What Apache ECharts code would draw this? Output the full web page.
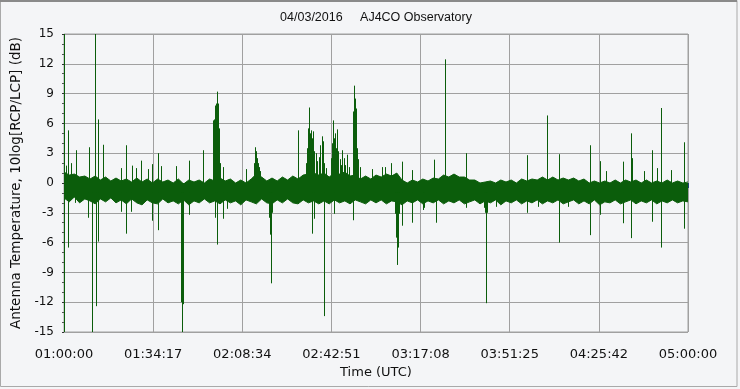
<!DOCTYPE html>
<html><head><meta charset="utf-8">
<script src="https://cdn.jsdelivr.net/npm/echarts@6/dist/echarts.min.js"></script>
<style>html,body{margin:0;padding:0;background:#f4f5f7;}#c{width:740px;height:389px;}</style>
</head><body><div id="c"></div>
<script>
// ---- data (minutes after 01:00:00 UTC, dB) ----
const titleText = '04/03/2016     AJ4CO Observatory';
const xTitle = 'Time (UTC)';
const yTitle = 'Antenna Temperature, 10log[RCP/LCP] (dB)';
const startHour = 1;          // 01:00:00
const spanMinutes = 240;      // to 05:00:00
const xSplits = 7;
const yMin = -15, yMax = 15, yStep = 3;
const bandStepMin = 2;
// upper edge of the dense noise band, one value every 2 minutes
const bandHi = [
 1.1,0.8,0.9,0.6,0.7,0.4,0.7,0.3,0.6,0.2,
 0.5,0.2,0.4,0.1,0.5,0.1,0.4,0.0,0.4,0.1,
 0.3,0.0,0.4,-0.1,0.3,0.1,0.3,0.0,0.4,0.2,
 0.5,0.2,0.4,0.0,0.3,0.0,0.4,0.9,0.6,0.2,
 0.5,0.2,0.6,0.3,0.7,0.4,0.8,0.9,1.0,0.8,
 1.0,0.6,1.0,0.9,1.1,0.7,0.8,0.4,0.7,0.4,
 0.8,0.6,0.9,0.7,1.0,0.3,0.0,0.3,0.1,0.4,
 0.2,0.5,0.4,0.8,0.6,0.9,0.6,0.6,0.3,0.3,
 0.0,0.1,0.2,0.0,0.3,0.1,0.3,0.0,0.4,0.2,
 0.4,0.3,0.6,0.3,0.6,0.3,0.5,0.3,0.5,0.2,
 0.4,0.0,0.2,0.0,0.2,0.0,0.3,0.0,0.3,0.1,
 0.3,0.0,0.3,0.0,0.2,0.0,0.3,0.0,0.2,0.0,
 0.1];
// lower edge of the dense noise band, one value every 2 minutes
const bandLo = [
 -1.5,-1.9,-1.4,-2.0,-1.6,-1.8,-2.1,-1.6,-1.9,-1.5,
 -2.0,-1.7,-2.1,-1.6,-2.0,-2.2,-1.7,-2.0,-2.1,-1.6,
 -2.0,-1.8,-2.1,-1.7,-2.2,-1.8,-2.0,-1.6,-2.0,-1.8,
 -2.1,-1.7,-2.0,-1.8,-2.2,-1.7,-1.9,-2.1,-1.6,-2.0,
 -2.1,-1.7,-2.0,-1.6,-2.0,-2.1,-1.7,-2.0,-1.8,-2.1,
 -1.8,-2.1,-1.7,-2.0,-1.8,-2.1,-1.7,-1.9,-2.1,-1.7,
 -2.0,-1.7,-2.1,-1.8,-1.9,-2.2,-1.8,-2.0,-1.7,-2.1,
 -1.8,-2.0,-1.7,-2.1,-1.8,-2.0,-1.7,-2.1,-1.9,-1.7,
 -2.1,-1.8,-2.0,-1.7,-2.2,-1.8,-2.0,-1.7,-2.1,-1.8,
 -2.0,-1.7,-2.1,-1.8,-2.0,-1.7,-2.1,-1.9,-1.7,-2.1,
 -1.8,-2.1,-1.7,-2.2,-1.9,-2.0,-1.7,-2.1,-1.9,-1.7,
 -2.1,-1.8,-2.0,-1.7,-2.1,-1.8,-2.0,-1.7,-2.0,-1.8,
 -1.9];
// upward spikes [minute, dB]
const upSpikes = [
 [0.1,15],[0.85,1.75],[1.85,5.3],[2.77,2.0],[4.69,3.3],[9.81,3.6],[12.23,15],[13.38,6.4],[15.31,3.85],
 [22.23,1.5],[24.23,3.8],[26.23,1.75],[28.0,1.5],[29.92,2.25],[32.38,1.4],[34.15,1.9],[36.42,3.0],
 [37.38,1.7],[43.08,1.7],[48.46,2.25],[53.77,3.3],
 [57.38,6.0],[57.62,6.3],[57.88,6.4],[58.15,7.8],[58.38,6.5],[58.65,8.0],[58.92,9.1],[59.15,9.2],
 [59.42,8.0],[59.69,5.5],[59.92,3.6],[60.19,2.0],[61.46,1.6],[70.31,1.4],
 [73.15,2.0],[73.54,3.6],[73.92,3.2],[74.31,2.5],[74.69,2.0],[75.08,1.6],[75.58,1.2],[90.31,5.3],
 [93.27,2.0],[93.77,3.5],[94.15,5.5],[94.54,7.6],[94.92,5.0],[95.31,5.3],[95.69,4.5],[96.08,5.2],
 [96.46,3.2],[97.0,3.0],[97.5,2.2],[98.15,2.6],[98.65,3.8],[99.31,4.7],[99.69,4.2],[100.19,2.0],[100.85,1.5],
 [102.77,2.5],[103.27,4.0],[103.77,6.3],[104.15,4.5],[104.54,5.0],[104.92,3.5],[105.31,5.4],[105.69,3.2],
 [106.23,2.4],[106.73,1.8],[107.23,3.3],[107.77,2.5],[108.27,1.8],[109.15,2.85],[109.81,1.6],
 [111.23,4.0],[111.46,7.2],[111.73,9.8],[112.0,8.5],[112.38,7.5],[112.77,3.5],[113.27,2.4],[113.92,1.6],
 [118.54,1.4],[122.62,1.6],[123.65,1.6],[126.08,2.0],[130.31,2.15],[134.15,1.3],[142.62,2.35],[146.92,12.45],
 [154.69,3.0],[178.38,2.8],[186.15,6.8],[190.69,2.9],[202.62,3.8],[206.42,2.2],[208.77,1.2],[215.0,2.15],
 [218.46,5.0],[218.77,2.5],[223.38,1.2],[226.46,3.3],[228.38,1.5],[229.92,7.55],[233.77,1.3],[238.77,4.1]];
// downward spikes [minute, dB]
const downSpikes = [
 [0.1,-15],[1.85,-6.5],[4.42,-2.0],[9.54,-3.5],[11.08,-15],[12.38,-12.4],[13.38,-5.9],[22.23,-2.9],
 [24.23,-5.1],[25.85,-2.9],[34.15,-3.8],[36.42,-4.75],[45.0,-5],[45.31,-12.0],[45.58,-15],[45.85,-12.2],
 [46.15,-7.5],[48.46,-3.2],[58.38,-3.5],[59.15,-6.2],[61.46,-3.6],[63.0,-2.6],[79.15,-3.5],[79.42,-5.2],
 [79.69,-10.1],[79.92,-5.0],[80.19,-3.0],[95.69,-5.1],[96.46,-3.6],[100.31,-13.4],[104.04,-3.1],[111.35,-3.75],
 [127.31,-2.5],[127.62,-3.1],[127.88,-5.5],[128.15,-7.0],[128.38,-8.25],[128.65,-6.5],[128.92,-3.1],[129.23,-2.5],
 [130.31,-4.3],[134.15,-4.0],[138.08,-2.7],[138.38,-2.7],[138.69,-2.5],[143.08,-4.0],[154.69,-2.5],
 [161.85,-2.5],[162.12,-3.0],[162.31,-12.1],[162.58,-5.65],[162.88,-3.0],[166.23,-2.4],[178.38,-3.0],
 [182.62,-2.4],[190.69,-6.0],[194.15,-2.4],[202.62,-5.25],[206.42,-3.2],[215.0,-4.05],[218.46,-5.55],
 [226.46,-3.9],[229.92,-6.5],[238.77,-4.6]];

// ---- chart ----
const GREEN = '#0b5d0b';
const FONT = 'DejaVu Sans';
const hiData = bandHi.map((h, i) => [i * bandStepMin * 60, h]);
const loData = bandLo.map((l, i) => [i * bandStepMin * 60, l]);
const upData = upSpikes.map(d => [d[0] * 60, d[1], 0]);
const downData = downSpikes.map(d => [d[0] * 60, d[1], -1.0]);

function pad(n) { return (n < 10 ? '0' : '') + n; }
function fmtTime(v) {
  const s = Math.floor(v + 1e-3) + startHour * 3600;
  return pad(Math.floor(s / 3600)) + ':' + pad(Math.floor((s % 3600) / 60)) + ':' + pad(s % 60);
}
function spikeItem(params, api) {
  const p1 = api.coord([api.value(0), api.value(2)]);
  const p2 = api.coord([api.value(0), api.value(1)]);
  const x = Math.round(p1[0] - 0.5) + 0.5;
  return { type: 'line', shape: { x1: x, y1: p1[1], x2: x, y2: p2[1] },
           style: { stroke: GREEN, lineWidth: 1, opacity: 1 } };
}
const bandSeries = (name, data) => ({
  type: 'line', name: name, data: data, symbol: 'none', silent: true, z: 2,
  lineStyle: { width: 1, color: GREEN, opacity: 1 },
  areaStyle: { color: GREEN, opacity: 1, origin: 0 }
});

const chart = echarts.init(document.getElementById('c'), null, { renderer: 'canvas' });
chart.setOption({
  animation: false,
  backgroundColor: '#f4f5f7',
  title: { text: titleText, left: 376, top: 11, padding: 0, textAlign: 'center',
    textStyle: { fontFamily: 'Liberation Sans', fontSize: 12.5, fontWeight: 'normal', color: '#111' } },
  graphic: [
    { type: 'rect', shape: { x: 0.5, y: 0.5, width: 736.5, height: 386 }, silent: true,
      style: { fill: null, stroke: '#a9a9a9', lineWidth: 1 } },
    { type: 'line', shape: { x1: 0, y1: 1, x2: 737, y2: 1 }, silent: true,
      style: { stroke: '#8a8a8a', lineWidth: 2 } }
  ],
  grid: { left: 64, right: 52, top: 34, bottom: 57, show: true,
    borderColor: '#a0a0a0', borderWidth: 1, backgroundColor: 'transparent' },
  xAxis: {
    type: 'value', min: 0, max: spanMinutes * 60, interval: spanMinutes * 60 / xSplits, offset: 4,
    axisLine: { show: false },
    axisTick: { show: true, length: 5, lineStyle: { color: '#1f3f74', width: 1 } },
    minorTick: { show: true, splitNumber: 6, length: 2.5, lineStyle: { color: '#333', width: 1 } },
    splitLine: { show: true, lineStyle: { color: '#a0a0a0', width: 1 } },
    axisLabel: { margin: 12, fontFamily: FONT, fontSize: 13, color: '#111', formatter: fmtTime },
    name: xTitle, nameLocation: 'middle', nameGap: 28,
    nameTextStyle: { fontFamily: FONT, fontSize: 13, color: '#111' }
  },
  yAxis: {
    type: 'value', min: yMin, max: yMax, interval: yStep, offset: 5,
    axisLine: { show: false },
    axisTick: { show: true, length: 2, lineStyle: { color: '#333', width: 1 } },
    minorTick: { show: true, splitNumber: 3, length: 2, lineStyle: { color: '#555', width: 1 } },
    splitLine: { show: true, lineStyle: { color: '#a0a0a0', width: 1 } },
    axisLabel: { margin: 5, fontFamily: FONT, fontSize: 12, color: '#111' },
    name: yTitle, nameLocation: 'middle', nameGap: 32, nameRotate: 90,
    nameTextStyle: { fontFamily: FONT, fontSize: 13.5, color: '#111' }
  },
  series: [
    bandSeries('bandHi', hiData),
    bandSeries('bandLo', loData),
    { type: 'custom', name: 'up', data: upData, clip: true, encode: { x: 0, y: [1, 2] }, renderItem: spikeItem, z: 3 },
    { type: 'custom', name: 'down', data: downData, clip: true, encode: { x: 0, y: [1, 2] }, renderItem: spikeItem, z: 3 }
  ]
});
</script></body></html>
